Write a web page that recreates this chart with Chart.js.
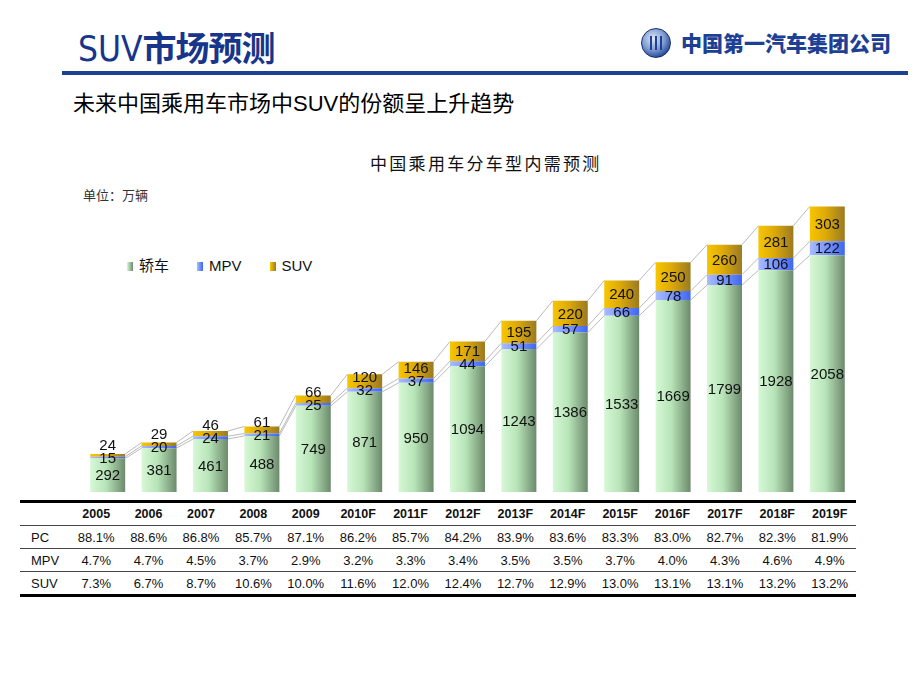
<!DOCTYPE html>
<html>
<head>
<meta charset="utf-8">
<script src="https://cdn.jsdelivr.net/npm/chart.js@4.4.1/dist/chart.umd.min.js"></script>
<style>
  body { margin: 0; width: 920px; height: 690px; background: #fff; position: relative; overflow: hidden;
         font-family: "Liberation Sans", Arial, sans-serif; }
  .abs { position: absolute; }
  #title { left: 78px; top: 22px; font-size: 34px; font-weight: bold; color: #17358a; white-space: nowrap;
           font-family: "Noto Sans CJK SC", sans-serif; letter-spacing: -1px; }
  #title .en { font-family: "Liberation Sans Narrow", "DejaVu Sans Condensed", sans-serif; font-weight: normal;
               font-size: 35px; letter-spacing: 0; }
  #rule { left: 62px; top: 71px; width: 846px; height: 4px; background: #1d3f94; }
  #logo { left: 641px; top: 26px; height: 32px; white-space: nowrap; }
  #emblem { position: absolute; left: 0; top: 2px; width: 28px; height: 28px; border-radius: 50%;
            background: radial-gradient(circle at 40% 35%, #dfe8f8 0%, #7f9ccf 45%, #1d3f94 80%); border: 1px solid #13306f; }
  #emblem i { position: absolute; top: 7px; width: 2px; height: 14px; background: #1d3f94; }
  #logotext { position: absolute; left: 40px; top: 1px; font-family: "Noto Sans CJK SC", sans-serif; font-weight: 900;
              font-size: 21px; color: #1d3f94; letter-spacing: 0; line-height: 30px; }
  #subtitle { left: 73px; top: 87px; font-size: 22px; color: #000; font-family: "Noto Sans CJK SC", sans-serif;
              line-height: 28px; white-space: nowrap; }
  #subtitle .en { font-family: "Liberation Sans", Arial, sans-serif; }
  #ctitle { left: 370px; top: 150px; font-size: 17px; letter-spacing: 2.3px; color: #111;
            font-family: "Noto Sans CJK SC", sans-serif; font-weight: 400; line-height: 26px; white-space: nowrap; }
  #unit { left: 83px; top: 185px; font-size: 13px; color: #333; font-family: "Noto Sans CJK SC", sans-serif;
          line-height: 20px; white-space: nowrap; }
  #legend { left: 127px; top: 254px; font-size: 15px; color: #111; white-space: nowrap; line-height: 22px; }
  #legend span.item { display: inline-block; margin-right: 28px; }
  #legend span.sw { display: inline-block; width: 6px; height: 9px; margin-right: 6px; vertical-align: 0px; }
  #legend .zh { font-family: "Noto Sans CJK SC", sans-serif; }
  #chartBox { left: 0; top: 140px; width: 920px; height: 360px; }
  #tbl { left: 20px; top: 500px; border-collapse: collapse; font-size: 13px; color: #111; }
  #tbl td, #tbl th { height: 22px; padding: 0; text-align: center; width: 52.4px; border-bottom: 1px solid #444; }
  #tbl th { font-weight: bold; font-size: 12.5px; }
  #tbl tr:first-child th { border-top: 3px solid #000; }
  #tbl tr:last-child td { border-bottom: 3px solid #000; }
  #tbl .lab { text-align: left; padding-left: 11px; width: 39px; }
</style>
</head>
<body>
<div id="title" class="abs"><span class="en">SUV</span>市场预测</div>
<div id="logo" class="abs"><div id="emblem"><i style="left:8px"></i><i style="left:13px"></i><i style="left:18px"></i></div><div id="logotext">中国第一汽车集团公司</div></div>
<div id="rule" class="abs"></div>
<div id="subtitle" class="abs">未来中国乘用车市场中<span class="en">SUV</span>的份额呈上升趋势</div>
<div id="ctitle" class="abs">中国乘用车分车型内需预测</div>
<div id="unit" class="abs">单位：万辆</div>
<div id="legend" class="abs"></div>
<div id="chartBox" class="abs"><canvas id="chart" width="920" height="360"></canvas></div>
<table id="tbl" class="abs"></table>

<script>
// categories
var years = ['2005','2006','2007','2008','2009','2010F','2011F','2012F','2013F','2014F','2015F','2016F','2017F','2018F','2019F'];

// demand, 10k vehicles
var pcValues  = [292, 381, 461, 488, 749, 871, 950, 1094, 1243, 1386, 1533, 1669, 1799, 1928, 2058];
var mpvValues = [15, 20, 24, 21, 25, 32, 37, 44, 51, 57, 66, 78, 91, 106, 122];
var suvValues = [24, 29, 46, 61, 66, 120, 146, 171, 195, 220, 240, 250, 260, 281, 303];

// share table
var pcShare  = ['88.1%','88.6%','86.8%','85.7%','87.1%','86.2%','85.7%','84.2%','83.9%','83.6%','83.3%','83.0%','82.7%','82.3%','81.9%'];
var mpvShare = ['4.7%','4.7%','4.5%','3.7%','2.9%','3.2%','3.3%','3.4%','3.5%','3.5%','3.7%','4.0%','4.3%','4.6%','4.9%'];
var suvShare = ['7.3%','6.7%','8.7%','10.6%','10.0%','11.6%','12.0%','12.4%','12.7%','12.9%','13.0%','13.1%','13.1%','13.2%','13.2%'];

var seriesNames = ['轿车', 'MPV', 'SUV'];
// left (light) -> right (dark) shading of each bar
var shades = [
    ['#d6f8d6', '#b8e4b8', '#6c8a6c'],
    ['#a8bcff', '#7c98ff', '#3f66f0'],
    ['#f7c600', '#ddaa08', '#9a7a22']
];

/**
* Build the legend and the share table from the arrays
*/
var legend = document.getElementById('legend');
seriesNames.forEach(function(name, i) {
    var zh = /[\u4e00-\u9fff]/.test(name) ? ' zh' : '';
    legend.innerHTML += '<span class="item"><span class="sw" style="background:linear-gradient(90deg,' +
        shades[i][0] + ',' + shades[i][2] + ')"></span><span class="' + zh + '">' + name + '</span></span>';
});

var tbl = document.getElementById('tbl');
var html = '<tr><th class="lab"></th>' + years.map(function(y){ return '<th>' + y + '</th>'; }).join('') + '</tr>';
[['PC', pcShare], ['MPV', mpvShare], ['SUV', suvShare]].forEach(function(row) {
    html += '<tr><td class="lab">' + row[0] + '</td>' + row[1].map(function(v){ return '<td>' + v + '</td>'; }).join('') + '</tr>';
});
tbl.innerHTML = html;

/**
* Cylinder-like shading: a horizontal gradient across each bar.
* Options are shared between bars, so every bar gets its own copy.
*/
var shadePlugin = {
    id: 'shade',
    beforeDatasetsDraw: function(chart) {
        var ctx = chart.ctx;
        chart.data.datasets.forEach(function(ds, di) {
            chart.getDatasetMeta(di).data.forEach(function(bar) {
                var x0 = bar.x - bar.width / 2;
                var g = ctx.createLinearGradient(x0, 0, x0 + bar.width, 0);
                g.addColorStop(0, shades[di][0]);
                g.addColorStop(0.45, shades[di][1]);
                g.addColorStop(1, shades[di][2]);
                bar.options = Object.assign({}, bar.options, { backgroundColor: g });
            });
        });
    }
};

/**
* Series lines between the tops of neighbouring stacks, plus value labels
* (labels of thin segments are pushed up so they do not collide)
*/
var linesPlugin = {
    id: 'serieslines',
    afterDatasetsDraw: function(chart) {
        var ctx = chart.ctx;
        ctx.save();
        ctx.strokeStyle = '#a8a8a8';
        ctx.lineWidth = 0.8;
        chart.data.datasets.forEach(function(ds, di) {
            var bars = chart.getDatasetMeta(di).data;
            for (var i = 0; i < bars.length - 1; i++) {
                var a = bars[i], b = bars[i + 1];
                ctx.beginPath();
                ctx.moveTo(a.x + a.width / 2, a.y);
                ctx.lineTo(b.x - b.width / 2, b.y);
                ctx.stroke();
            }
        });
        ctx.fillStyle = '#111';
        ctx.font = '15px "Liberation Sans", Arial, sans-serif';
        ctx.textAlign = 'center';
        ctx.textBaseline = 'middle';
        years.forEach(function(y, i) {
            var prev = Infinity;
            chart.data.datasets.forEach(function(ds, di) {
                var bar = chart.getDatasetMeta(di).data[i];
                var ty = Math.min((bar.y + bar.base) / 2 + 1, prev - 13);
                prev = ty;
                ctx.fillText(String(ds.data[i]), bar.x, ty);
            });
        });
        ctx.restore();
    }
};

var chart = new Chart(document.getElementById('chart').getContext('2d'), {
    type: 'bar',
    data: {
        labels: years,
        datasets: [
            { label: seriesNames[0], data: pcValues,  backgroundColor: shades[0][1] },
            { label: seriesNames[1], data: mpvValues, backgroundColor: shades[1][1] },
            { label: seriesNames[2], data: suvValues, backgroundColor: shades[2][1] }
        ]
    },
    options: {
        responsive: false,
        animation: false,
        layout: { padding: { left: 82, right: 67, top: 30, bottom: 8 } },
        datasets: { bar: { barPercentage: 0.68, categoryPercentage: 1, borderWidth: 0 } },
        scales: {
            x: { stacked: true, display: false },
            y: { stacked: true, display: false, min: 0, max: 2800 }
        },
        plugins: {
            legend: { display: false },
            tooltip: { enabled: false }
        }
    },
    plugins: [shadePlugin, linesPlugin]
});
</script>
</body>
</html>
